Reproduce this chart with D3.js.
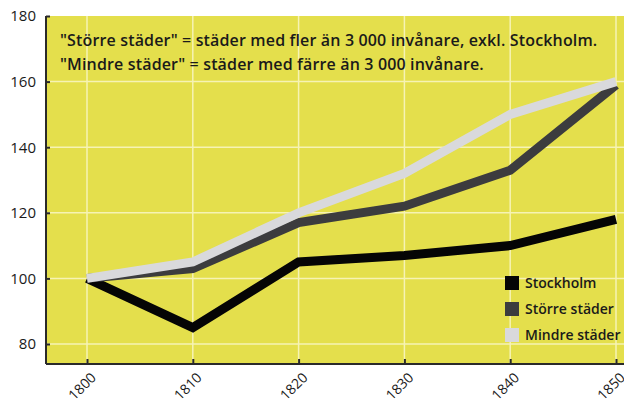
<!DOCTYPE html>
<html>
<head>
<meta charset="utf-8">
<script src="https://cdn.jsdelivr.net/npm/d3@7/dist/d3.min.js"></script>
<style>
    body { margin: 0; background: #fff; }
    text { font-family: "Open Sans", "Noto Sans", sans-serif; fill: #1a1a1a; font-weight: 600; }
</style>
</head>
<body>
<svg id="chart" width="624" height="400"></svg>
<script>
var years = [1800, 1810, 1820, 1830, 1840, 1850];
var stockholm = [100, 85, 105, 107, 110, 118];
var storre = [100, 103, 117, 122, 133, 159];
var mindre = [100, 105, 120, 132, 150, 160];
var yTicks = [80, 100, 120, 140, 160, 180];
var seriesNames = ["Stockholm", "Större städer", "Mindre städer"];
var seriesColors = ["#050505", "#3c3c3e", "#d9d9dc"];
var noteLines = [
    "\"Större städer\" = städer med fler än 3 000 invånare, exkl. Stockholm.",
    "\"Mindre städer\" = städer med färre än 3 000 invånare."
];

var margin = { top: 16, right: 0, bottom: 36, left: 46 };
var width = 624 - margin.left - margin.right;
var height = 400 - margin.top - margin.bottom;

var svg = d3.select("#chart")
    .append("g")
    .attr("transform", "translate(" + margin.left + "," + margin.top + ")");

var xScale = d3.scaleLinear()
    .domain([1800, 1850])
    .range([41, 570]);

var yScale = d3.scaleLinear()
    .domain([73.9, 180])
    .range([height, 0]);

// yellow panel
svg.append("rect")
    .attr("width", width)
    .attr("height", height)
    .attr("fill", "#e4df4c");

// grid
svg.selectAll(".hgrid")
    .data(yTicks.slice(0, -1))
    .enter().append("line")
    .attr("x1", 0).attr("x2", width)
    .attr("y1", function (d) { return yScale(d); })
    .attr("y2", function (d) { return yScale(d); })
    .attr("stroke", "#f6f3b4")
    .attr("stroke-width", 1.5);

svg.selectAll(".vgrid")
    .data(years)
    .enter().append("line")
    .attr("y1", 0).attr("y2", height)
    .attr("x1", function (d) { return xScale(d); })
    .attr("x2", function (d) { return xScale(d); })
    .attr("stroke", "#f6f3b4")
    .attr("stroke-width", 1.5);

// lines
var line = d3.line()
    .x(function (d, i) { return xScale(years[i]); })
    .y(function (d) { return yScale(d); });

[stockholm, storre, mindre].forEach(function (s, i) {
    svg.append("path")
        .datum(s)
        .attr("d", line)
        .attr("fill", "none")
        .attr("stroke", seriesColors[i])
        .attr("stroke-width", 9)
        .attr("stroke-linejoin", "miter");
});

// axes
var yAxis = svg.append("g")
    .call(d3.axisLeft(yScale).tickValues(yTicks).tickSize(-4).tickPadding(10));
var xAxis = svg.append("g")
    .attr("transform", "translate(0," + height + ")")
    .call(d3.axisBottom(xScale).tickValues(years).tickFormat(d3.format("d")).tickSize(-5));

[yAxis, xAxis].forEach(function (a) {
    a.select(".domain").attr("stroke", "#2a2a2a").attr("stroke-width", 2);
    a.selectAll(".tick line").attr("stroke", "#2a2a2a").attr("stroke-width", 2);
    a.selectAll("text").style("font-size", "15px").style("font-weight", "500").attr("fill", "#1a1a1a");
});
yAxis.select(".domain").attr("d", "M0,0V" + height);
xAxis.select(".domain").attr("d", "M0,0H" + width);

xAxis.selectAll("text")
    .attr("x", 0)
    .attr("y", 0)
    .attr("dy", "0.35em")
    .style("font-size", "14px")
    .style("text-anchor", "end")
    .attr("transform", "translate(6,11) rotate(-45)");

// note
svg.selectAll(".note")
    .data(noteLines)
    .enter().append("text")
    .attr("x", 14)
    .attr("y", function (d, i) { return 30 + i * 24; })
    .style("font-size", "16px")
    .style("letter-spacing", "0.15px")
    .text(function (d) { return d; });

// legend
var legend = svg.selectAll(".legend")
    .data(seriesNames)
    .enter().append("g")
    .attr("transform", function (d, i) { return "translate(459," + (260 + i * 26) + ")"; });

legend.append("rect")
    .attr("width", 14).attr("height", 14)
    .attr("fill", function (d, i) { return seriesColors[i]; });

legend.append("text")
    .attr("x", 20).attr("y", 12)
    .style("font-size", "14px")
    .text(function (d) { return d; });
</script>
</body>
</html>
